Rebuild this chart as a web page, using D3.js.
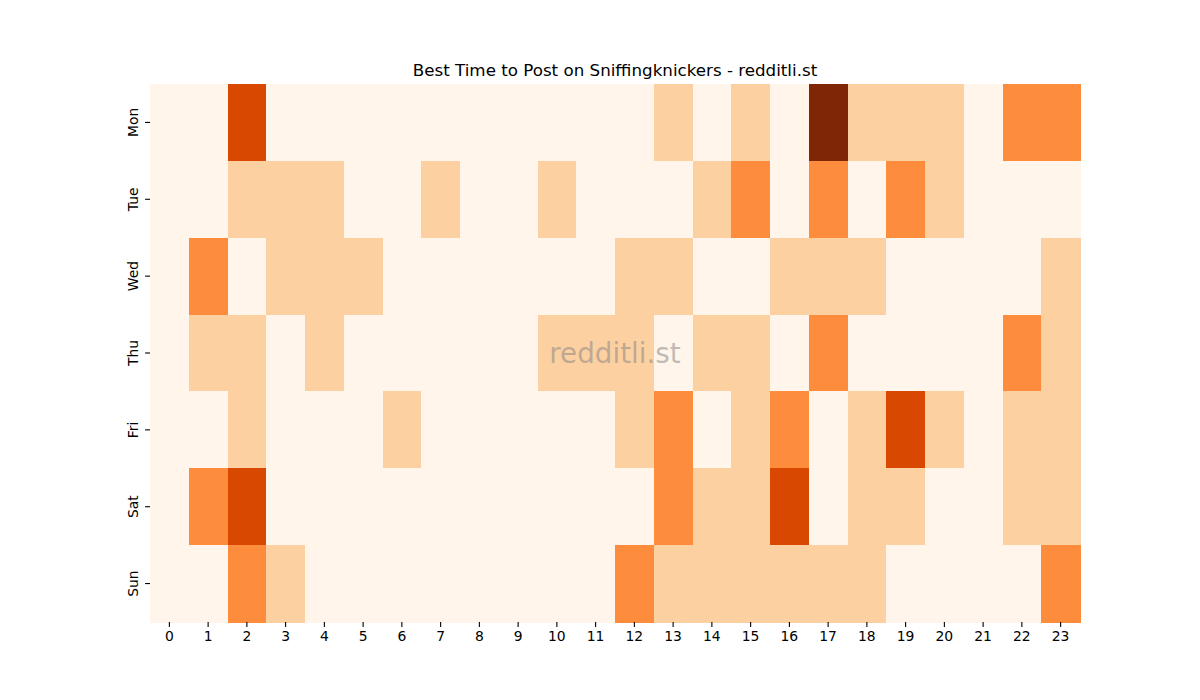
<!DOCTYPE html>
<html>
<head>
<meta charset="utf-8">
<script src="https://cdn.jsdelivr.net/npm/d3@7"></script>
<style>
  body { margin: 0; background: #fff; }
  svg { font-family: "DejaVu Sans", sans-serif; }
</style>
</head>
<body>
<script>
// hours along the bottom, days down the side
const hours = d3.range(24).map(String);
const days = ["Mon", "Tue", "Wed", "Thu", "Fri", "Sat", "Sun"];

// one row of values per day
const mon = [0,0,3,0,0,0,0,0,0,0,0,0,0,1,0,1,0,4,1,1,1,0,2,2];
const tue = [0,0,1,1,1,0,0,1,0,0,1,0,0,0,1,2,0,2,0,2,1,0,0,0];
const wed = [0,2,0,1,1,1,0,0,0,0,0,0,1,1,0,0,1,1,1,0,0,0,0,1];
const thu = [0,1,1,0,1,0,0,0,0,0,1,1,1,0,1,1,0,2,0,0,0,0,2,1];
const fri = [0,0,1,0,0,0,1,0,0,0,0,0,1,2,0,1,2,0,1,3,1,0,1,1];
const sat = [0,2,3,0,0,0,0,0,0,0,0,0,0,2,1,1,3,0,1,1,0,0,1,1];
const sun = [0,0,2,1,0,0,0,0,0,0,0,0,2,1,1,1,1,1,1,0,0,0,0,2];
const rows = [mon, tue, wed, thu, fri, sat, sun];

const width = 1200, height = 700;
const margin = { top: 84, right: 120, bottom: 78, left: 150 };

const svg = d3.select("body").append("svg")
  .attr("width", width)
  .attr("height", height);

const x = d3.scaleBand().domain(hours).range([margin.left, width - margin.right]);
const y = d3.scaleBand().domain(days).range([margin.top, height - margin.bottom]);

// matplotlib "Oranges" sampled at the five levels
const color = d3.scaleLinear()
  .domain([0, 1, 2, 3, 4])
  .range(["#fff5eb", "#fdd0a2", "#fd8d3c", "#d94801", "#7f2704"]);

const cells = [];
rows.forEach((r, i) => r.forEach((v, j) => cells.push({ day: days[i], hour: hours[j], value: v })));

svg.append("g")
  .selectAll("rect")
  .data(cells)
  .join("rect")
  .attr("x", d => x(d.hour))
  .attr("y", d => y(d.day))
  .attr("width", x.bandwidth() + 0.5)
  .attr("height", y.bandwidth() + 0.5)
  .attr("fill", d => color(d.value))
  .attr("shape-rendering", "crispEdges");

// axes
const xAxis = svg.append("g")
  .attr("transform", `translate(0,${height - margin.bottom})`)
  .call(d3.axisBottom(x).tickSize(4.9).tickPadding(4.5));
xAxis.select(".domain").remove();
xAxis.selectAll("text").attr("font-size", 13.9).attr("fill", "#000").attr("font-family", "DejaVu Sans");
xAxis.selectAll("line").attr("stroke", "#000").attr("stroke-width", 1.1);

const yAxis = svg.append("g")
  .attr("transform", `translate(${margin.left},0)`)
  .call(d3.axisLeft(y).tickSize(4.9).tickPadding(4.5));
yAxis.select(".domain").remove();
yAxis.selectAll("line").attr("stroke", "#000").attr("stroke-width", 1.1);
yAxis.selectAll("text")
  .attr("font-size", 13.9)
  .attr("fill", "#000")
  .attr("font-family", "DejaVu Sans")
  .attr("text-anchor", "middle")
  .attr("dy", 0)
  .attr("x", 0)
  .attr("transform", "translate(-12,0) rotate(-90)");

// title
svg.append("text")
  .attr("x", (margin.left + width - margin.right) / 2)
  .attr("y", 76)
  .attr("text-anchor", "middle")
  .attr("font-size", 16.7)
  .attr("fill", "#000")
  .text("Best Time to Post on Sniffingknickers - redditli.st");

// watermark
svg.append("text")
  .attr("x", (margin.left + width - margin.right) / 2)
  .attr("y", (margin.top + height - margin.bottom) / 2)
  .attr("text-anchor", "middle")
  .attr("dominant-baseline", "central")
  .attr("font-size", 27.8)
  .attr("fill", "#808080")
  .attr("fill-opacity", 0.5)
  .text("redditli.st");
</script>
</body>
</html>
